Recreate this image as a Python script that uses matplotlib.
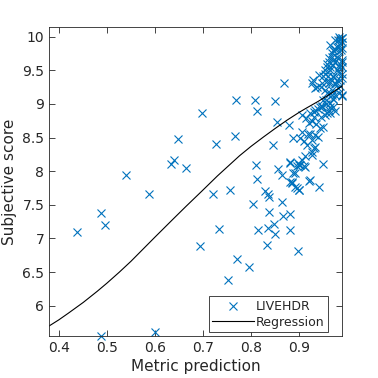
import matplotlib
matplotlib.use('Agg')
import matplotlib.pyplot as plt
import numpy as np

# scatter data: metric prediction vs subjective score
pred = [0.438, 0.488, 0.497, 0.539, 0.587, 0.488, 0.600, 0.634, 0.640, 0.648,
        0.664, 0.698, 0.694, 0.720, 0.728, 0.733, 0.756, 0.751, 0.766, 0.768,
        0.770, 0.795, 0.804, 0.808, 0.812, 0.811, 0.813, 0.815, 0.829, 0.836,
        0.837, 0.837, 0.836, 0.834, 0.848, 0.849, 0.845, 0.849, 0.854, 0.855,
        0.864, 0.864, 0.866, 0.869, 0.878, 0.880, 0.880, 0.880, 0.885, 0.881,
        0.888, 0.888, 0.892, 0.896, 0.899, 0.898,
        0.906, 0.915, 0.926, 0.923, 0.933, 0.944, 0.906, 0.902, 0.919, 0.926,
        0.933, 0.944, 0.940, 0.916, 0.926, 0.926, 0.933, 0.906, 0.913, 0.899,
        0.909, 0.892, 0.885, 0.899, 0.923, 0.942, 0.949, 0.898, 0.902, 0.895,
        0.912, 0.880, 0.921,
        0.947, 0.954, 0.961, 0.956, 0.964, 0.971, 0.975, 0.968, 0.961, 0.947,
        0.937, 0.928, 0.942, 0.954, 0.964, 0.971, 0.978, 0.982, 0.985, 0.978,
        0.971, 0.961, 0.968, 0.978, 0.985, 0.978, 0.985, 0.975, 0.982, 0.989,
        0.989, 0.989, 0.989, 0.989, 0.964, 0.975, 0.964, 0.950, 0.971, 0.964,
        0.954, 0.982, 0.982, 0.971, 0.957, 0.950, 0.985, 0.980, 0.933, 0.945,
        0.990, 0.985, 0.988, 0.980, 0.983, 0.975, 0.987, 0.972, 0.968, 0.980,
        0.988, 0.975, 0.962, 0.970, 0.990, 0.958, 0.965, 0.983, 0.953, 0.960,
        0.970, 0.988, 0.955, 0.965, 0.975, 0.926, 0.957, 0.968, 0.971, 0.990,
        0.955, 0.948, 0.965, 0.975, 0.940, 0.930, 0.957, 0.930, 0.945, 0.920,
        0.935, 0.950, 0.923, 0.910, 0.930]
score = [7.10, 7.38, 7.20, 7.94, 7.66, 5.55, 5.61, 8.11, 8.16, 8.48,
         8.05, 8.86, 6.89, 7.66, 8.40, 7.14, 7.72, 6.38, 8.52, 9.06,
         6.70, 6.58, 7.51, 9.06, 8.89, 8.09, 7.89, 7.12, 7.71, 7.66,
         7.61, 7.40, 7.16, 6.90, 7.22, 7.07, 8.39, 9.05, 8.73, 8.04,
         7.94, 7.54, 7.34, 9.31, 8.69, 8.13, 7.37, 7.12, 7.82, 7.84,
         8.49, 7.97, 7.77, 7.75, 7.72, 6.82,
         8.84, 8.79, 8.74, 8.86, 8.91, 8.96, 8.59, 8.49, 8.56, 8.46,
         8.54, 8.64, 8.51, 8.39, 8.29, 8.24, 8.36, 8.17, 8.22, 8.09,
         8.07, 7.97, 7.84, 7.72, 7.87, 7.77, 8.11, 8.12, 8.09, 8.07,
         8.06, 8.12, 7.86,
         8.96, 8.84, 8.91, 9.06, 9.01, 9.08, 9.13, 9.21, 9.31, 9.31,
         9.25, 9.36, 9.43, 9.50, 9.55, 9.41, 9.36, 9.16, 9.26, 9.50,
         9.65, 9.68, 9.75, 9.70, 9.60, 9.85, 9.90, 9.95, 9.99, 9.98,
         9.83, 9.65, 9.45, 9.13, 9.88, 9.31, 9.16, 9.06, 8.96, 8.86,
         9.21, 9.55, 9.78, 9.80, 9.60, 9.42, 9.36, 9.24, 9.23, 9.25,
         9.98, 9.96, 9.92, 9.95, 9.85, 9.82, 9.80, 9.78, 9.70, 9.68,
         9.62, 9.62, 9.62, 9.58, 9.55, 9.55, 9.50, 9.46, 9.45, 9.42,
         9.40, 9.38, 9.33, 9.32, 9.30, 9.31, 9.16, 9.13, 9.08, 9.12,
         9.00, 8.97, 8.95, 8.90, 8.92, 8.88, 8.86, 8.81, 8.80, 8.72,
         8.70, 8.65, 8.55, 8.45, 8.35]

# fitted regression curve
reg_x = [0.380, 0.400, 0.420, 0.451, 0.480, 0.500, 0.526, 0.550, 0.575, 0.600,
         0.638, 0.665, 0.697, 0.730, 0.776, 0.800, 0.826, 0.850, 0.875, 0.900,
         0.913, 0.940, 0.965, 0.990]
reg_y = [5.70, 5.79, 5.89, 6.05, 6.215, 6.335, 6.50, 6.66, 6.84, 7.02,
         7.29, 7.48, 7.70, 7.93, 8.23, 8.37, 8.51, 8.635, 8.76, 8.875,
         8.93, 9.04, 9.15, 9.27]

dark = (0.15, 0.15, 0.15)
blue = '#0072BD'

fig = plt.figure(figsize=(3.78, 3.78), dpi=100)
ax = fig.add_axes([0.130, 0.111, 0.776, 0.817])
ax.plot(pred, score, 'x', color=blue, markersize=6, markeredgewidth=0.8,
        clip_on=False, label='LIVEHDR')
ax.plot(reg_x, reg_y, '-', color='black', linewidth=0.8, label='Regression')

ax.set_xlim(0.380, 0.990)
ax.set_ylim(5.55, 10.14)
ax.set_xticks([0.4, 0.5, 0.6, 0.7, 0.8, 0.9])
ax.set_xticklabels(['0.4', '0.5', '0.6', '0.7', '0.8', '0.9'])
ax.set_yticks([6, 6.5, 7, 7.5, 8, 8.5, 9, 9.5, 10])
ax.set_yticklabels(['6', '6.5', '7', '7.5', '8', '8.5', '9', '9.5', '10'])
ax.tick_params(direction='in', top=True, right=True, length=4, width=0.6,
               colors=dark, labelsize=10, labelcolor=dark)
for s in ax.spines.values():
    s.set_color(dark)
    s.set_linewidth(0.6)
ax.set_xlabel('Metric prediction', fontsize=11, color=dark, labelpad=3)
ax.set_ylabel('Subjective score', fontsize=11, color=dark, labelpad=4)

leg = ax.legend(loc='lower right', bbox_to_anchor=(0.952, 0.012),
                fontsize=9, fancybox=False, framealpha=1,
                edgecolor=dark, borderpad=0.3, handlelength=3.3,
                handletextpad=0.2, labelspacing=0.2, borderaxespad=0)
leg.get_frame().set_linewidth(0.6)
for t in leg.get_texts():
    t.set_color(dark)

plt.savefig('out.png', dpi=100)
